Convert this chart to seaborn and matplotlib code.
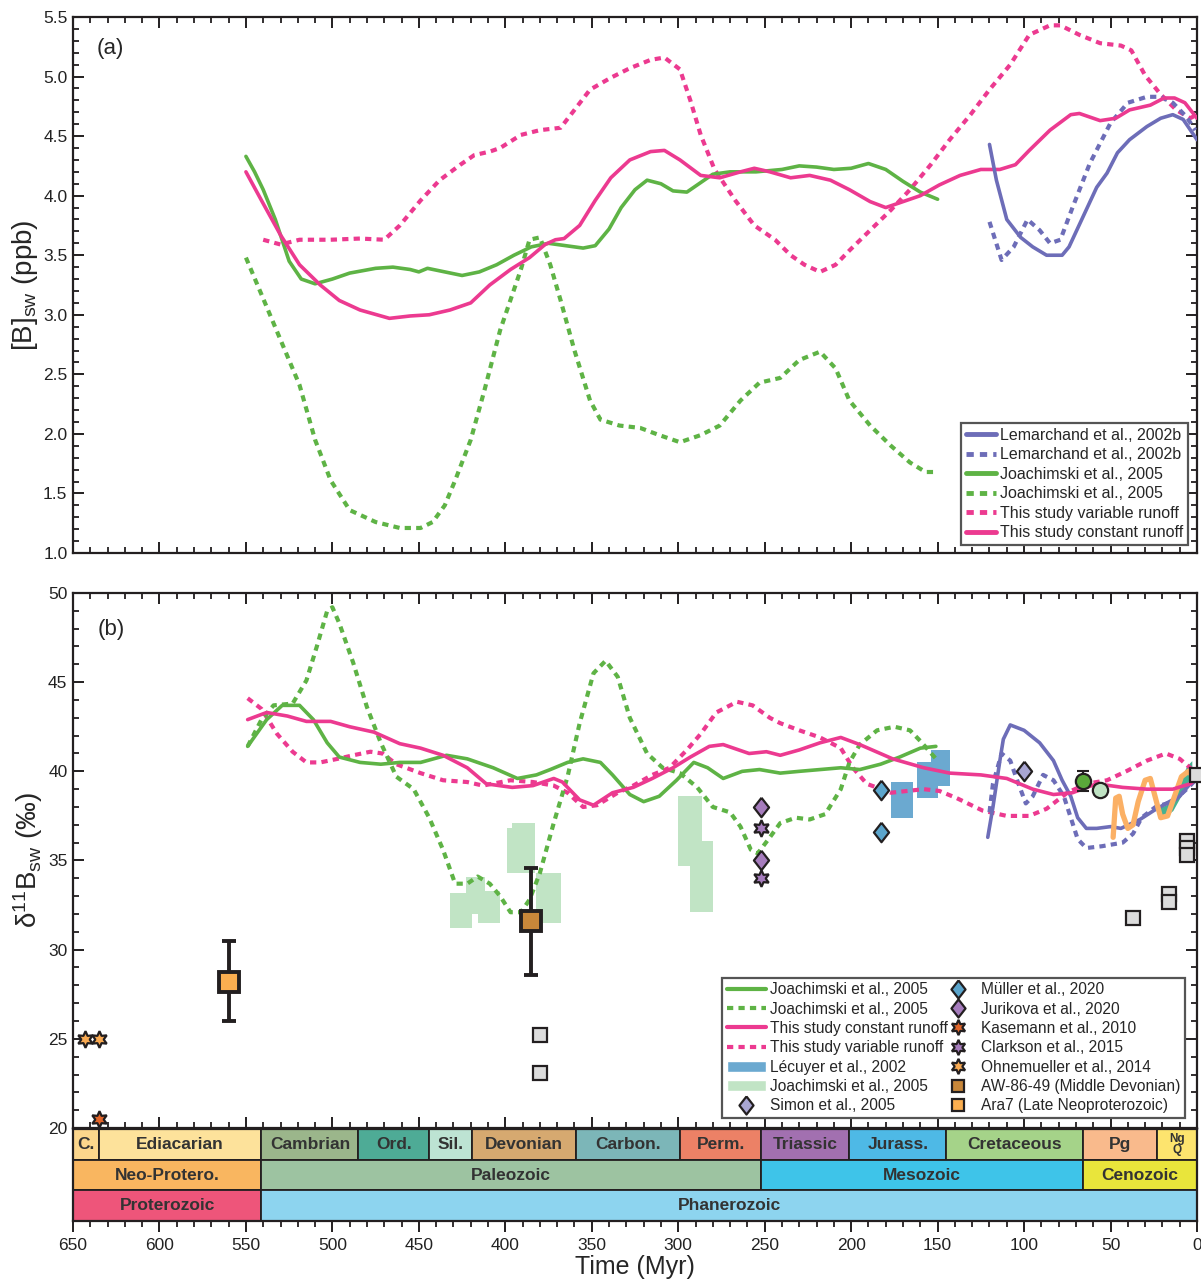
import matplotlib
matplotlib.use('Agg')
import matplotlib.pyplot as plt
from matplotlib.lines import Line2D
from matplotlib.patches import Patch
from matplotlib.ticker import MultipleLocator
import seaborn as sns

# ---------------- panel (a): [B]sw ----------------
a_joa_t = [550, 545, 540, 533, 525, 518, 510, 500, 490, 475, 465, 455, 450, 445, 435, 425, 415, 405, 395, 385,
           375, 365, 355, 348, 340, 333, 325, 318, 310, 303, 295, 288, 280, 270, 255, 240, 230, 220, 210, 200,
           190, 180, 170, 160, 150]
a_joa_v = [4.33, 4.2, 4.05, 3.8, 3.45, 3.3, 3.26, 3.3, 3.35, 3.39, 3.4, 3.38, 3.36, 3.39, 3.36, 3.33, 3.36, 3.42,
           3.5, 3.57, 3.6, 3.58, 3.56, 3.58, 3.72, 3.9, 4.05, 4.13, 4.1, 4.04, 4.03, 4.1, 4.18, 4.2, 4.2, 4.22,
           4.25, 4.24, 4.22, 4.23, 4.27, 4.22, 4.12, 4.03, 3.97]
a_joad_t = [550, 541, 530, 519, 510, 501, 490, 475, 461, 449, 442, 435, 429, 420, 412, 403, 391, 386, 380, 374,
            368, 360, 351, 345, 334, 322, 311, 299, 287, 276, 264, 253, 241, 230, 218, 209, 201, 189, 177, 166,
            157, 150]
a_joad_v = [3.48, 3.17, 2.79, 2.41, 1.95, 1.61, 1.36, 1.26, 1.21, 1.21, 1.26, 1.4, 1.61, 1.95, 2.37, 2.87, 3.38,
            3.63, 3.65, 3.42, 3.12, 2.7, 2.28, 2.12, 2.07, 2.05, 1.99, 1.93, 1.99, 2.07, 2.28, 2.43, 2.47, 2.62,
            2.69, 2.55, 2.28, 2.07, 1.9, 1.76, 1.68, 1.68]
a_var_t = [540, 530, 519, 501, 484, 470, 461, 449, 438, 426, 418, 409, 403, 391, 380, 368, 360, 351, 339, 328,
           316, 308, 299, 293, 287, 279, 267, 256, 244, 235, 227, 218, 209, 201, 189, 177, 166, 154, 143, 131,
           120, 108, 97, 85, 79, 68, 56, 44, 38, 30, 21, 12, 4, 0]
a_var_v = [3.63, 3.59, 3.63, 3.63, 3.64, 3.63, 3.75, 3.96, 4.13, 4.26, 4.34, 4.37, 4.4, 4.51, 4.55, 4.57, 4.72,
           4.89, 4.99, 5.07, 5.14, 5.16, 5.06, 4.8, 4.51, 4.22, 3.96, 3.75, 3.63, 3.5, 3.42, 3.36, 3.42, 3.54,
           3.71, 3.88, 4.05, 4.26, 4.47, 4.68, 4.89, 5.1, 5.35, 5.43, 5.43, 5.35, 5.28, 5.26, 5.22, 5.01, 4.85,
           4.72, 4.65, 4.68]
a_con_t = [550, 541, 530, 519, 507, 496, 484, 467, 455, 444, 432, 420, 409, 397, 386, 377, 371, 366, 357, 348,
           339, 328, 316, 308, 299, 287, 276, 264, 256, 247, 235, 224, 212, 201, 189, 180, 172, 160, 149, 137,
           125, 114, 105, 97, 85, 73, 68, 56, 47, 39, 27, 19, 13, 7, 0]
a_con_v = [4.2, 3.96, 3.67, 3.42, 3.25, 3.12, 3.04, 2.97, 2.99, 3.0, 3.04, 3.1, 3.25, 3.38, 3.48, 3.59, 3.63,
           3.64, 3.75, 3.96, 4.15, 4.3, 4.37, 4.38, 4.3, 4.17, 4.15, 4.2, 4.23, 4.2, 4.15, 4.17, 4.13, 4.05,
           3.95, 3.9, 3.94, 4.0, 4.09, 4.17, 4.22, 4.22, 4.26, 4.38, 4.55, 4.68, 4.69, 4.63, 4.65, 4.72, 4.76,
           4.82, 4.82, 4.78, 4.65]
a_lem_t = [120, 116, 110, 102, 95, 87, 78, 74, 66, 58, 52, 46, 39, 29, 21, 14, 8, 0]
a_lem_v = [4.43, 4.13, 3.8, 3.65, 3.57, 3.5, 3.5, 3.57, 3.82, 4.07, 4.19, 4.36, 4.47, 4.58, 4.65, 4.68, 4.64, 4.47]
a_lemd_t = [120, 113, 106, 98, 91, 85, 79, 72, 62, 50, 40, 29, 21, 14, 6, 1]
a_lemd_v = [3.78, 3.46, 3.57, 3.8, 3.71, 3.6, 3.63, 3.9, 4.27, 4.61, 4.78, 4.83, 4.83, 4.78, 4.66, 4.55]

# ---------------- panel (b): d11B sw ----------------
b_joa_t = [549, 538, 529, 519, 511, 503, 496, 484, 472, 461, 449, 434, 422, 407, 393, 382, 374, 364, 355, 345,
           338, 328, 320, 311, 301, 291, 283, 274, 263, 253, 241, 230, 218, 206, 195, 183, 172, 160, 151]
b_joa_v = [41.4, 42.9, 43.7, 43.7, 42.9, 41.6, 40.8, 40.5, 40.4, 40.5, 40.5, 40.9, 40.7, 40.2, 39.6, 39.8, 40.1,
           40.5, 40.7, 40.5, 39.8, 38.7, 38.3, 38.6, 39.5, 40.5, 40.2, 39.6, 40.0, 40.1, 39.9, 40.0, 40.1, 40.2,
           40.1, 40.4, 40.8, 41.3, 41.4]
b_joad_t = [549, 541, 534, 523, 515, 509, 503, 500, 496, 488, 480, 472, 463, 453, 444, 436, 429, 422, 416, 409,
            403, 397, 391, 386, 380, 372, 364, 357, 349, 342, 335, 328, 318, 309, 299, 289, 280, 270, 264, 258,
            254, 247, 241, 232, 224, 215, 206, 201, 195, 185, 175, 166, 160, 150]
b_joad_v = [41.4, 42.9, 43.7, 43.8, 45.1, 47.0, 49.0, 49.2, 48.3, 46.1, 43.6, 41.6, 39.7, 39.0, 37.4, 35.6, 33.7,
            33.7, 34.1, 33.7, 33.0, 32.1, 32.1, 32.8, 34.3, 37.1, 39.7, 42.7, 45.5, 46.2, 45.3, 43.0, 41.0, 40.2,
            39.9, 39.1, 38.0, 37.7, 36.9, 35.6, 35.4, 36.3, 37.1, 37.4, 37.3, 37.6, 39.0, 40.5, 41.5, 42.3, 42.5,
            42.3, 41.7, 40.6]
b_con_t = [549, 538, 526, 515, 501, 490, 476, 461, 449, 436, 422, 411, 396, 384, 372, 367, 357, 349, 338, 326,
           315, 303, 293, 282, 274, 259, 249, 241, 230, 218, 206, 195, 176, 158, 143, 125, 110, 95, 83, 72, 58,
           43, 29, 14, 4, 0]
b_con_v = [42.9, 43.3, 43.1, 42.8, 42.8, 42.5, 42.2, 41.55, 41.3, 40.9, 40.2, 39.3, 39.1, 39.2, 39.6, 39.4, 38.4,
           38.1, 38.8, 39.1, 39.6, 40.2, 40.8, 41.4, 41.5, 41.0, 41.1, 40.9, 41.2, 41.6, 41.9, 41.5, 40.7, 40.2,
           39.9, 39.8, 39.6, 39.0, 38.7, 38.8, 39.3, 39.1, 39.0, 39.0, 39.3, 39.6]
b_var_t = [549, 541, 532, 523, 515, 507, 497, 488, 478, 471, 463, 449, 436, 422, 413, 397, 384, 372, 364, 355,
           347, 335, 326, 315, 305, 295, 287, 278, 266, 257, 247, 241, 230, 218, 206, 199, 191, 177, 158, 149,
           139, 124, 110, 97, 87, 75, 64, 52, 41, 29, 18, 10, 4, 0]
b_var_v = [44.1, 43.5, 42.1, 41.1, 40.5, 40.5, 40.7, 40.9, 41.1, 41.0, 40.4, 39.9, 39.5, 39.4, 39.2, 39.5, 39.4,
           39.2, 38.8, 38.0, 38.1, 38.8, 39.2, 39.8, 40.2, 41.2, 42.1, 43.3, 43.9, 43.7, 43.0, 42.7, 42.3, 41.9,
           41.3, 40.2, 39.3, 38.8, 39.0, 38.9, 38.5, 37.8, 37.5, 37.5, 37.9, 38.8, 39.3, 39.5, 40.0, 40.6, 41.0,
           40.7, 40.2, 39.9]
b_lem_t = [121, 118, 114, 112, 108, 100, 91, 83, 78, 73, 69, 64, 58, 50, 44, 33, 25, 16, 10, 4, 0]
b_lem_v = [36.3, 38.0, 40.6, 41.8, 42.6, 42.3, 41.6, 40.6, 39.5, 38.6, 37.4, 36.8, 36.8, 36.9, 36.8, 37.3, 37.8,
           38.3, 38.6, 39.3, 39.8]
b_lemd_t = [120, 118, 113, 108, 104, 99, 95, 89, 83, 77, 72, 69, 64, 55, 43, 37, 32, 24, 14, 6, 0]
b_lemd_v = [37.7, 39.3, 41.0, 40.6, 39.5, 38.2, 38.6, 39.8, 39.5, 38.6, 37.1, 36.2, 35.7, 35.8, 36.0, 36.5, 37.4,
            38.0, 38.3, 39.0, 39.6]
b_org_t = [48.5, 47, 45, 43, 40, 37, 34, 30, 27, 24, 21, 17, 13, 9, 5, 3]
b_org_v = [36.3, 38.5, 38.6, 37.6, 36.8, 37.0, 38.3, 39.5, 39.6, 38.5, 37.4, 37.5, 38.6, 39.7, 40.0, 39.8]
b_teal_t = [22, 18, 14, 10, 6, 3]
b_teal_lo = [37.4, 37.5, 37.8, 38.5, 39.2, 39.9]
b_teal_hi = [38.0, 38.1, 38.4, 39.4, 40.3, 40.6]

# boxes: start, end (Myr), low, high
lecuyer_t0 = [177, 162, 154]
lecuyer_t1 = [164, 150, 143]
lecuyer_lo = [37.4, 38.5, 39.2]
lecuyer_hi = [39.4, 40.5, 41.2]
joabox_t0 = [432, 423, 416, 399, 396, 382, 300, 293]
joabox_t1 = [419, 412, 403, 383, 383, 368, 286, 280]
joabox_lo = [31.2, 32.0, 31.5, 34.3, 36.0, 31.5, 34.7, 32.1]
joabox_hi = [33.2, 34.1, 33.3, 36.8, 37.1, 34.3, 38.6, 36.1]

# point data
muller_t, muller_v = [183, 183], [38.95, 36.6]
jurikova_t, jurikova_v = [252, 252], [38.0, 35.0]
clarkson_t, clarkson_v = [252, 252], [36.8, 34.0]
simon_t, simon_v = [100], [40.0]
kasemann_t, kasemann_v = [635], [20.5]
ohne_t, ohne_v = [643, 635], [25.0, 25.0]
ara7_t, ara7_v, ara7_lo, ara7_hi = [560], [28.2], [26.0], [30.5]
aw_t, aw_v, aw_lo, aw_hi = [385], [31.6], [28.6], [34.6]
gcirc_t, gcirc_v, gcirc_lo, gcirc_hi = [66], [39.45], [38.9], [40.0]
lcirc_t, lcirc_v, lcirc_lo, lcirc_hi = [56], [38.95], [38.65], [39.25]
grey_t = [380, 380, 37, 16, 16, 6, 6, 6, 0]
grey_v = [25.2, 23.1, 31.8, 33.1, 32.7, 36.1, 35.7, 35.3, 39.8]

# ---------------- time scale ----------------
period_names = ['C.', 'Ediacarian', 'Cambrian', 'Ord.', 'Sil.', 'Devonian', 'Carbon.', 'Perm.', 'Triassic',
                'Jurass.', 'Cretaceous', 'Pg', 'Ng\nQ']
period_start = [650, 635, 541, 485, 444, 419, 359, 299, 252, 201, 145, 66, 23]
period_end = [635, 541, 485, 444, 419, 359, 299, 252, 201, 145, 66, 23, 0]
period_cols = ['#fcd68c', '#fde29b', '#9bb68b', '#4eab96', '#bde3d3', '#d6a970', '#7cb6b8', '#ec8166',
               '#a270b0', '#4eb9e6', '#a5d389', '#f9ba8c', '#fde46e']
era_names = ['Neo-Protero.', 'Paleozoic', 'Mesozoic', 'Cenozoic']
era_start = [650, 541, 252, 66]
era_end = [541, 252, 66, 0]
era_cols = ['#f9b660', '#9dc3a1', '#3ec4e9', '#e9e53b']
eon_names = ['Proterozoic', 'Phanerozoic']
eon_start = [650, 541]
eon_end = [541, 0]
eon_cols = ['#ee557a', '#8dd4ef']

GREEN = '#5eb345'
PINK = '#ec3a90'
LEM = '#6d6db8'
LECUYER = '#6ba9d0'
LGREEN = '#c1e4c5'
DARK = '#231f20'
DOT = (0, (1.5, 1.25))
DIAMOND = [(0, 1), (0.78, 0), (0, -1), (-0.78, 0), (0, 1)]
STAR6 = (6, 1, 0)

sns.set_style('ticks')
plt.rcParams['font.family'] = ['Liberation Sans', 'DejaVu Sans']
plt.rcParams['mathtext.fontset'] = 'custom'
plt.rcParams['mathtext.rm'] = 'Liberation Sans'
plt.rcParams['mathtext.default'] = 'regular'

fig = plt.figure(figsize=(12.01, 12.81), dpi=100)
W, H = 1201, 1281
ax1 = fig.add_axes([73 / W, 1 - 553 / H, 1124 / W, 536 / H])
ax2 = fig.add_axes([73 / W, 1 - 1128 / H, 1124 / W, 535 / H])
ax3 = fig.add_axes([73 / W, 1 - 1221 / H, 1124 / W, 92 / H])


def line(ax, t, v, color, dotted=False, lw=2.6, z=3):
    sns.lineplot(x=t, y=v, ax=ax, color=color, lw=3.0 if dotted else lw, estimator=None, sort=False,
                 linestyle=DOT if dotted else '-', dash_capstyle='butt', zorder=z)


# panel a
line(ax1, a_var_t, a_var_v, PINK, dotted=True)
line(ax1, a_joad_t, a_joad_v, GREEN, dotted=True)
line(ax1, a_lemd_t, a_lemd_v, LEM, dotted=True)
line(ax1, a_joa_t, a_joa_v, GREEN)
line(ax1, a_con_t, a_con_v, PINK)
line(ax1, a_lem_t, a_lem_v, LEM)

# panel b boxes
for t0, t1, lo, hi in zip(joabox_t0, joabox_t1, joabox_lo, joabox_hi):
    ax2.fill_between([t0, t1], lo, hi, color=LGREEN, lw=0, zorder=1)
for t0, t1, lo, hi in zip(lecuyer_t0, lecuyer_t1, lecuyer_lo, lecuyer_hi):
    ax2.fill_between([t0, t1], lo, hi, color=LECUYER, lw=0, zorder=1)
ax2.fill_between(b_teal_t, b_teal_lo, b_teal_hi, color='#2fa985', lw=0, alpha=0.9, zorder=2)

line(ax2, b_var_t, b_var_v, PINK, dotted=True)
line(ax2, b_joad_t, b_joad_v, GREEN, dotted=True)
line(ax2, b_lemd_t, b_lemd_v, LEM, dotted=True)
line(ax2, b_joa_t, b_joa_v, GREEN)
line(ax2, b_lem_t, b_lem_v, LEM)
line(ax2, b_org_t, b_org_v, '#fbb065', lw=3.8)
line(ax2, b_con_t, b_con_v, PINK)

mk = dict(ls='none', mec=DARK, mew=1.6, zorder=6)
ax2.plot(grey_t, grey_v, 's', ms=9.5, mfc='#dcdcdc', clip_on=False, **mk)
ax2.plot(muller_t, muller_v, marker=DIAMOND, ms=14, mfc='#5ba5cc', **mk)
ax2.plot(jurikova_t, jurikova_v, marker=DIAMOND, ms=14, mfc='#a67cbd', **mk)
ax2.plot(clarkson_t, clarkson_v, marker=STAR6, ms=12, mfc='#a67cbd', **mk)
ax2.plot(simon_t, simon_v, marker=DIAMOND, ms=14, mfc='#a9a6d3', **mk)
ax2.plot(kasemann_t, kasemann_v, marker=STAR6, ms=12, mfc='#e2662a', **mk)
ax2.plot(ohne_t, ohne_v, marker=STAR6, ms=12, mfc='#f9aa52', **mk)


def errpt(t, v, lo, hi, lw, cap):
    ax2.errorbar(t, v, yerr=[[v[0] - lo[0]], [hi[0] - v[0]]], fmt='none', ecolor=DARK,
                 elinewidth=lw, capsize=cap, capthick=lw, zorder=6)


errpt(ara7_t, ara7_v, ara7_lo, ara7_hi, 2.8, 5)
errpt(aw_t, aw_v, aw_lo, aw_hi, 2.8, 5)
errpt(gcirc_t, gcirc_v, gcirc_lo, gcirc_hi, 1.5, 4)
errpt(lcirc_t, lcirc_v, lcirc_lo, lcirc_hi, 1.5, 4)
ax2.plot(ara7_t, ara7_v, 's', ms=15, mfc='#fbae50', ls='none', mec=DARK, mew=2.8, zorder=7)
ax2.plot(aw_t, aw_v, 's', ms=15, mfc='#c8873a', ls='none', mec=DARK, mew=2.8, zorder=7)
ax2.plot(gcirc_t, gcirc_v, 'o', ms=11, mfc='#5aa93a', **mk)
ax2.plot(lcirc_t, lcirc_v, 'o', ms=11, mfc='#bfe2c3', **mk)

# time scale
ax3.barh([2.5] * len(period_names), [s - e for s, e in zip(period_start, period_end)], left=period_end,
         height=1, color=period_cols, edgecolor=DARK, linewidth=1.3)
ax3.barh([1.5] * len(era_names), [s - e for s, e in zip(era_start, era_end)], left=era_end,
         height=1, color=era_cols, edgecolor=DARK, linewidth=1.3)
ax3.barh([0.5] * len(eon_names), [s - e for s, e in zip(eon_start, eon_end)], left=eon_end,
         height=1, color=eon_cols, edgecolor=DARK, linewidth=1.3)
for names, st, en, y in [(period_names, period_start, period_end, 2.5), (era_names, era_start, era_end, 1.5),
                         (eon_names, eon_start, eon_end, 0.5)]:
    for n, s, e in zip(names, st, en):
        fs = 8.5 if '\n' in n else 12.5
        ax3.text((s + e) / 2, y, n, ha='center', va='center', fontsize=fs, fontweight='bold', color='#333',
                 linespacing=0.85)
ax3.set_ylim(0, 3)
ax3.set_yticks([])

# axes formatting
for ax in (ax1, ax2, ax3):
    ax.set_xlim(650, 0)
    ax.xaxis.set_major_locator(MultipleLocator(50))
    ax.xaxis.set_minor_locator(MultipleLocator(10))
    for sp in ax.spines.values():
        sp.set_visible(True)
        sp.set_linewidth(1.6)
        sp.set_color(DARK)
    ax.tick_params(which='major', length=8, width=1.4, color=DARK, labelsize=12.5, labelcolor='#222')
    ax.tick_params(which='minor', length=4.5, width=1.3, color=DARK)

ax1.set_ylim(1.0, 5.5)
ax1.yaxis.set_major_locator(MultipleLocator(0.5))
ax1.yaxis.set_minor_locator(MultipleLocator(0.1))
ax1.yaxis.set_major_formatter(matplotlib.ticker.FormatStrFormatter('%.1f'))
ax2.set_ylim(20, 50)
ax2.yaxis.set_major_locator(MultipleLocator(5))
ax2.yaxis.set_minor_locator(MultipleLocator(1))
for ax in (ax1, ax2):
    ax.tick_params(axis='both', which='both', direction='in', top=True, right=True, bottom=True,
                   labelbottom=False, pad=4)
    ax.set_xlabel('')
ax3.tick_params(axis='x', which='both', direction='out', top=False, bottom=True, pad=4)
ax3.tick_params(axis='y', which='both', left=False)

ax1.set_ylabel('[B]$_{sw}$ (ppb)', fontsize=20, labelpad=2)
ax2.set_ylabel('δ$^{11}$B$_{sw}$ (‰)', fontsize=20, labelpad=2)
ax3.set_xlabel('Time (Myr)', fontsize=18, labelpad=2)

ax1.text(0.021, 0.942, '(a)', transform=ax1.transAxes, fontsize=16, va='center')
ax2.text(0.022, 0.931, '(b)', transform=ax2.transAxes, fontsize=16, va='center')

# legends
leg_kw = dict(frameon=True, fancybox=False, framealpha=1, borderpad=0.3,
              labelspacing=0.28, handletextpad=0.25, borderaxespad=0)
h_a = [Line2D([], [], color=LEM, lw=3.5),
       Line2D([], [], color=LEM, lw=3.5, ls=DOT),
       Line2D([], [], color=GREEN, lw=3.5),
       Line2D([], [], color=GREEN, lw=3.5, ls=DOT),
       Line2D([], [], color=PINK, lw=3.5, ls=DOT),
       Line2D([], [], color=PINK, lw=3.5)]
l_a = ['Lemarchand et al., 2002b', 'Lemarchand et al., 2002b', 'Joachimski et al., 2005',
       'Joachimski et al., 2005', 'This study variable runoff', 'This study constant runoff']
lg1 = ax1.legend(h_a, l_a, loc='lower right', bbox_to_anchor=(0.992, 0.015), handlelength=1.9,
                 fontsize=11.5, **leg_kw)

mk_leg = dict(ls='none', mec=DARK, mew=1.6)
h_b = [Line2D([], [], color=GREEN, lw=3),
       Line2D([], [], color=GREEN, lw=3, ls=DOT),
       Line2D([], [], color=PINK, lw=3),
       Line2D([], [], color=PINK, lw=3, ls=DOT),
       Patch(facecolor=LECUYER),
       Patch(facecolor=LGREEN),
       Line2D([], [], marker=DIAMOND, ms=13, mfc='#a9a6d3', **mk_leg),
       Line2D([], [], marker=DIAMOND, ms=13, mfc='#5ba5cc', **mk_leg),
       Line2D([], [], marker=DIAMOND, ms=13, mfc='#a67cbd', **mk_leg),
       Line2D([], [], marker=STAR6, ms=11, mfc='#e2662a', **mk_leg),
       Line2D([], [], marker=STAR6, ms=11, mfc='#a67cbd', **mk_leg),
       Line2D([], [], marker=STAR6, ms=11, mfc='#f9aa52', **mk_leg),
       Line2D([], [], marker='s', ms=9, mfc='#c8873a', **mk_leg),
       Line2D([], [], marker='s', ms=9, mfc='#fbae50', **mk_leg)]
l_b = ['Joachimski et al., 2005', 'Joachimski et al., 2005', 'This study constant runoff',
       'This study variable runoff', 'Lécuyer et al., 2002', 'Joachimski et al., 2005', 'Simon et al., 2005',
       'Müller et al., 2020', 'Jurikova et al., 2020', 'Kasemann et al., 2010', 'Clarkson et al., 2015',
       'Ohnemueller et al., 2014', 'AW-86-49 (Middle Devonian)', 'Ara7 (Late Neoproterozoic)']
lg2 = ax2.legend(h_b, l_b, loc='lower right', bbox_to_anchor=(0.9893, 0.0187), ncol=2, handlelength=2.5,
                 columnspacing=-0.6, fontsize=11.2, **leg_kw)
for lg in (lg1, lg2):
    lg.get_frame().set_edgecolor('#555')
    lg.get_frame().set_linewidth(1.6)
    lg.set_zorder(10)

fig.savefig('out.png', dpi=100)
